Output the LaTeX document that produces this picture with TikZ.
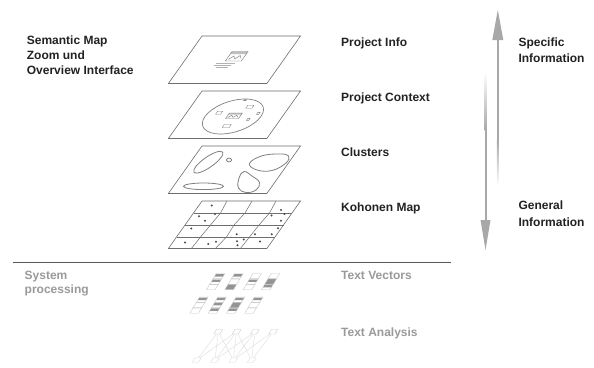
\documentclass[tikz,border=0pt]{standalone}
\usepackage{fontspec}
\setmainfont{Liberation Sans}
\definecolor{arrowgray}{HTML}{A8A8A8}
\definecolor{labeldark}{HTML}{222222}
\definecolor{labelgray}{HTML}{9A9A9A}
\definecolor{planeline}{HTML}{6E6E6E}
\newcommand\tvcell[2]{%
  \ifcase#2\relax
  \or \fill[black!42] (0,#1) rectangle (8.5,{#1+5.4});
  \or \fill[black!42] (0,{#1+0.6}) rectangle (8.5,{#1+3});
  \fi
  \draw[black!22, line width=0.4pt] (0,#1) rectangle (8.5,{#1+5.4});}
\newcommand\tvitem[5]{%
  \begin{scope}[shift={(#1,#2)}, xslant=0.6]
    \tvcell{0}{#3}\tvcell{5.4}{#4}\tvcell{10.8}{#5}
  \end{scope}}
\begin{document}
\begin{tikzpicture}[x=1pt,y=-1pt,
  plane/.style={draw=planeline, line width=0.6pt, fill=white},
  gridline/.style={draw=planeline, line width=0.5pt},
  layerscope/.style={shift={(202,#1)}, xslant=0.708},
  blob/.style={draw=black!50, line width=0.8pt},
  faint/.style={draw=black!40, line width=0.4pt},
  kdot/.style={fill=black!70},
  lbl/.style={font=\fontsize{12}{14}\selectfont\bfseries, text=labeldark, inner sep=0pt, anchor=base west},
  glbl/.style={font=\fontsize{12}{14}\selectfont\bfseries, text=labelgray, inner sep=0pt, anchor=base west},
  netnode/.style={draw=black!20, line width=0.4pt, minimum width=6pt, minimum height=4.5pt, inner sep=0pt, xslant=0.6, transform shape},
  netline/.style={draw=black!14, line width=0.35pt}]
\fill[white] (0,0) rectangle (594,367);
\useasboundingbox (0,0) rectangle (594,367);

% ---------- Layer 1 : Project Info
\begin{scope}[layerscope=36]
  \draw[plane] (0,0) -- (98.5,0) -- (98.5,47.5) -- (0,47.5) -- cycle;
  \fill[black!25] (41,15.5) rectangle (57,18);
  \draw[faint, draw=black!55] (41,15.5) rectangle (57,25);
  \draw[faint, draw=black!55] (43,23.5) -- (46,20) -- (49,23) -- (52,19.5) -- (55,22.5);
  \draw[faint, draw=black!30] (34,27.6) -- (53,27.6);
  \draw[faint, draw=black!30] (33,29.6) -- (50,29.6);
  \draw[faint, draw=black!30] (36,31.6) -- (48,31.6);
\end{scope}

% ---------- Layer 2 : Project Context
\begin{scope}[layerscope=91]
  \draw[plane] (0,0) -- (98.5,0) -- (98.5,47.5) -- (0,47.5) -- cycle;
  \draw[blob, line width=0.7pt] (49,25.5) ellipse [x radius=28, y radius=17.5];
  \fill[black!45] (48,8.3) rectangle (51,9.8);
  \draw[faint, draw=black!50] (56,14.2) rectangle (62,17.2);
  \draw[faint, draw=black!50] (30,20.2) rectangle (35,23.2);
  \fill[black!25] (43,22) rectangle (56,23.6);
  \draw[faint, draw=black!55] (43,22) rectangle (56,27.5);
  \draw[faint, draw=black!55] (44.5,26.5) -- (47,24.3) -- (49.5,26.3) -- (52,24.3) -- (54.5,26.3);
  \draw[faint, draw=black!50] (71,21.3) rectangle (73.2,23.3);
  \draw[faint, draw=black!50] (65.2,27.3) rectangle (67.4,29.3);
  \draw[faint, draw=black!50] (46,33.5) rectangle (53,36.5);
\end{scope}

% ---------- Layer 3 : Clusters
\begin{scope}[layerscope=146]
  \draw[plane] (0,0) -- (98.5,0) -- (98.5,47.5) -- (0,47.5) -- cycle;
\end{scope}
\draw[blob] (208.3,162.2) ellipse [x radius=17.5, y radius=5.2, rotate=35];
\draw[blob] (229,160) ellipse [x radius=2.6, y radius=1.9];
\draw[blob] plot[smooth cycle, tension=0.7] coordinates
  {(249.5,163.5) (262,155.8) (280,154) (288.5,156) (286,163) (272,170.5) (257,170)};
\draw[blob] plot[smooth cycle, tension=0.7] coordinates
  {(244,171.5) (252,176) (259.5,182.5) (256,190) (246,192.5) (238.5,188) (239,178)};
\draw[blob] (203.5,186.3) ellipse [x radius=20, y radius=3.3];

% ---------- Layer 4 : Kohonen Map
\begin{scope}[layerscope=201]
  \draw[plane] (0,0) -- (98.5,0) -- (98.5,47.5) -- (0,47.5) -- cycle;
  \draw[gridline] (0,12) -- (98.5,12) (0,24) -- (98.5,24) (0,36) -- (98.5,36);
  \draw[gridline] (25,0) -- (27,12) (50,0) -- (51.5,12) (74,0) -- (76,12);
  \draw[gridline] (27,12) -- (25.5,24) (51.5,12) -- (49,24) (76,12) -- (74,24);
  \draw[gridline] (25.5,24) -- (24,36) (49,24) -- (50,36) (74,24) -- (73,36);
  \draw[gridline] (24,36) -- (23,47.5) (50,36) -- (47,47.5) (73,36) -- (72,47.5);
\end{scope}
\foreach \p in {(211.7,205.5),(281,210),(215,214),(199,216.3),(205,220.7),(271.5,215.5),
  (284.5,214),(281,220.7),(191.3,228.5),(236.7,234.2),(255,234.2),(271.7,234.2),(278,228.2),
  (185,242.5),(208.3,244),(216,241.8),(237,241.2),(243.8,239.5),(237.5,245.3),(260,241.5)}
  \fill[kdot] \p circle (1.15);

% ---------- labels (upper)
\node[lbl] (sem1) at (26.7,44) {Semantic Map};
\node[lbl] (sem2) at (26.7,59.3) {Zoom und};
\node[lbl] (sem3) at (26.7,74.5) {Overview Interface};
\node[lbl] (pinfo) at (341,46.6) {Project Info};
\node[lbl] (pctx) at (341,101.6) {Project Context};
\node[lbl] (clus) at (341,156.6) {Clusters};
\node[lbl] (koh) at (341,211.4) {Kohonen Map};
\node[lbl] (spec1) at (518.3,46.7) {Specific};
\node[lbl] (spec2) at (518.3,62.7) {Information};
\node[lbl] (gen1) at (518.3,209.3) {General};
\node[lbl] (gen2) at (518.3,226.5) {Information};

% ---------- arrows
\coordinate (upTip) at (497.8,10);
\coordinate (downTip) at (485.5,250);
\fill[arrowgray] (492.3,40) -- (503.3,40) -- (upTip) -- cycle;
\fill[arrowgray] (496.8,39) rectangle (498.8,140);
\shade[top color=arrowgray, bottom color=white] (496.8,140) rectangle (498.8,186);
\shade[top color=white, bottom color=arrowgray] (484.5,72) rectangle (486.5,130);
\fill[arrowgray] (484.5,130) rectangle (486.5,221);
\fill[arrowgray] (480.5,220) -- (490.5,220) -- (downTip) -- cycle;

% ---------- separator
\coordinate (sepL) at (12.5,262);
\coordinate (sepR) at (451,262);
\draw[black!65, line width=0.8pt] (sepL) -- (sepR);

% ---------- lower labels
\node[glbl] (sys1) at (24.5,279) {System};
\node[glbl] (sys2) at (24.5,293.3) {processing};
\node[glbl] (tvec) at (341,279) {Text Vectors};
\node[glbl] (tana) at (341,336) {Text Analysis};

% ---------- text vectors icons
\tvitem{216.3}{273.5}{2}{2}{0}
\tvitem{234.6}{273.5}{2}{0}{1}
\tvitem{252.9}{273.5}{0}{2}{0}
\tvitem{271.2}{273.5}{0}{1}{2}
\tvitem{199.6}{297}{2}{0}{0}
\tvitem{217.9}{297}{2}{2}{2}
\tvitem{236.2}{297}{2}{1}{2}
\tvitem{254.5}{297}{2}{0}{0}

% ---------- text analysis network
\foreach \i/\x in {1/218.3,2/236.6,3/254.9,4/273.2}
  \node[netnode] (t\i) at (\x,331.7) {};
\foreach \i/\x in {1/196.7,2/215,3/233.3,4/251.6}
  \node[netnode, draw=black!14] (b\i) at (\x,360) {};
\foreach \a/\b in {1/1,1/2,2/1,2/2,2/3,3/2,3/3,3/4,4/3,4/4,1/3,2/4}
  \draw[netline] (t\a) -- (b\b);
\end{tikzpicture}
\end{document}
